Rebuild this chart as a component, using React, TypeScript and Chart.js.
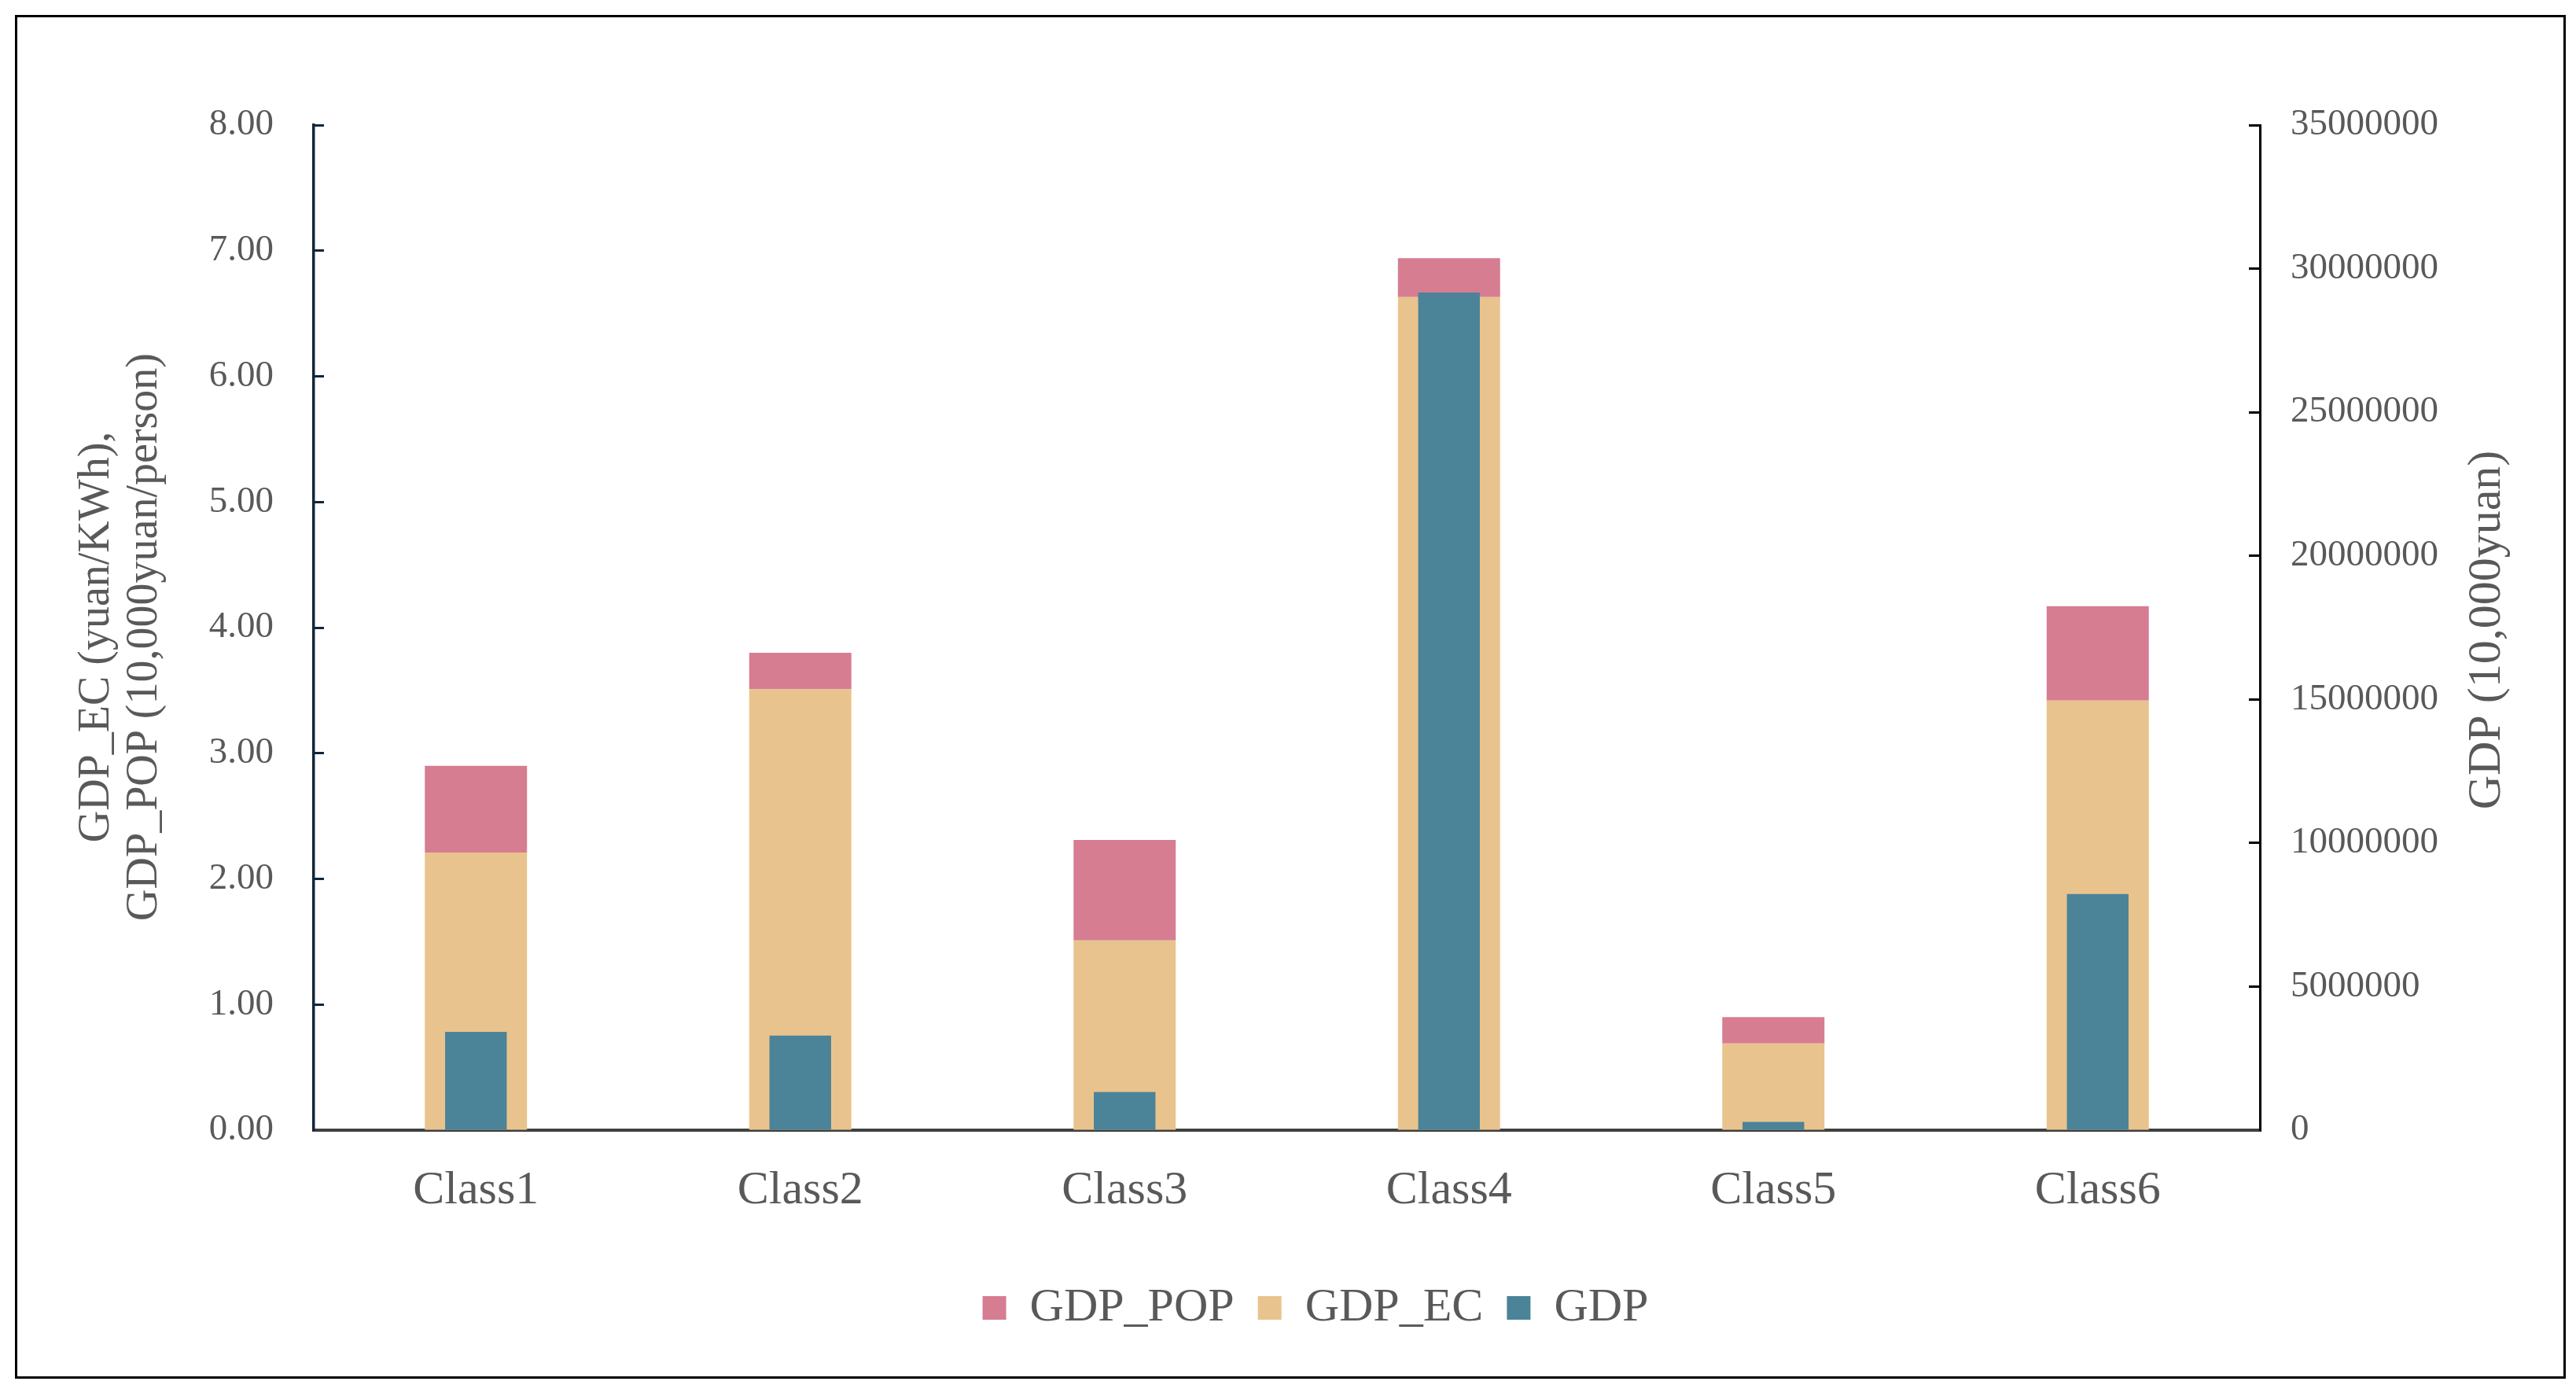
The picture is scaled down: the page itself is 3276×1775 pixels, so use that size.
import React, { useEffect, useRef } from "react";
import { Chart, registerables } from "chart.js";

Chart.register(...registerables);

// ---- data ----
const CATEGORIES = ["Class1", "Class2", "Class3", "Class4", "Class5", "Class6"];
const GDP_EC = [2.21, 3.51, 1.51, 6.63, 0.69, 3.42];
const GDP_POP = [0.69, 0.29, 0.8, 0.31, 0.21, 0.75];
const GDP = [3420000, 3290000, 1325000, 29170000, 285000, 8220000];

const LEFT_TITLE = ["GDP_EC (yuan/KWh),", "GDP_POP (10,000yuan/person)"];
const RIGHT_TITLE = "GDP (10,000yuan)";

const LEFT_MIN = 0;
const LEFT_MAX = 8;
const LEFT_STEP = 1;
const RIGHT_MIN = 0;
const RIGHT_MAX = 35000000;
const RIGHT_STEP = 5000000;

// ---- styles ----
const FONT = '"Liberation Serif", "Times New Roman", serif';
const TEXT = "#595959";
const PINK = "#D67D92";
const TAN = "#E9C38D";
const BLUE = "#4B8399";
const NAVY = "#10263A";

const titlePlugin = {
  id: "axisTitles",
  afterDraw(chart: any) {
    const ctx = chart.ctx;
    const area = chart.chartArea;
    ctx.save();
    ctx.fillStyle = TEXT;
    ctx.textAlign = "center";
    ctx.textBaseline = "middle";
    ctx.font = `56px ${FONT}`;
    const cy = (area.top + area.bottom) / 2 + 12;
    const xs = [123, 184];
    LEFT_TITLE.forEach((line, i) => {
      ctx.save();
      ctx.translate(xs[i], cy);
      ctx.rotate(-Math.PI / 2);
      ctx.fillText(line, 0, 0);
      ctx.restore();
    });
    ctx.font = `60px ${FONT}`;
    ctx.save();
    ctx.translate(3163, (area.top + area.bottom) / 2 + 3);
    ctx.rotate(-Math.PI / 2);
    ctx.fillText(RIGHT_TITLE, 0, 0);
    ctx.restore();
    ctx.restore();
  },
};

export default function App() {
  const canvasRef = useRef<HTMLCanvasElement | null>(null);

  useEffect(() => {
    if (!canvasRef.current) return;
    const chart = new Chart(canvasRef.current, {
      type: "bar",
      data: {
        labels: CATEGORIES,
        datasets: [
          {
            label: "GDP_POP",
            data: GDP_POP,
            backgroundColor: PINK,
            borderWidth: 0,
            yAxisID: "y",
            stack: "ratio",
            order: 2,
            grouped: false,
            barPercentage: 0.315,
            categoryPercentage: 1,
          } as any,
          {
            label: "GDP_EC",
            data: GDP_EC,
            backgroundColor: TAN,
            borderWidth: 0,
            yAxisID: "y",
            stack: "ratio",
            order: 1,
            grouped: false,
            barPercentage: 0.315,
            categoryPercentage: 1,
          } as any,
          {
            label: "GDP",
            data: GDP,
            backgroundColor: BLUE,
            borderWidth: 0,
            yAxisID: "y1",
            stack: "gdp",
            order: 0,
            grouped: false,
            barPercentage: 0.19,
            categoryPercentage: 1,
          } as any,
        ],
      },
      options: {
        responsive: false,
        animation: false,
        devicePixelRatio: 1,
        layout: { padding: { left: 70, right: 0, top: 159, bottom: 72 } },
        plugins: {
          legend: {
            position: "bottom",
            labels: {
              boxWidth: 30,
              boxHeight: 30,
              padding: 30,
              color: TEXT,
              font: { family: FONT, size: 60 },
              sort: (a: any, b: any) => a.datasetIndex - b.datasetIndex,
            },
          },
          tooltip: { enabled: false },
          title: { display: false },
        },
        scales: {
          x: {
            stacked: true,
            z: 1,
            grid: { display: false },
            border: { display: true, color: "#404040", width: 4 },
            ticks: { color: TEXT, font: { family: FONT, size: 60 }, padding: 33 },
            afterFit: (s: any) => {
              s.height = 166;
            },
          },
          y: {
            position: "left",
            stacked: true,
            min: LEFT_MIN,
            max: LEFT_MAX,
            ticks: {
              stepSize: LEFT_STEP,
              callback: (v: any) => Number(v).toFixed(2),
              color: TEXT,
              font: { family: FONT, size: 47 },
              padding: 64,
            },
            grid: {
              drawOnChartArea: false,
              drawTicks: true,
              tickLength: -13,
              tickWidth: 3,
              tickColor: NAVY,
            },
            border: { display: true, color: NAVY, width: 3.5 },
            afterFit: (s: any) => {
              s.width = 329;
            },
          },
          y1: {
            position: "right",
            stacked: true,
            min: RIGHT_MIN,
            max: RIGHT_MAX,
            ticks: {
              stepSize: RIGHT_STEP,
              callback: (v: any) => String(v),
              color: TEXT,
              font: { family: FONT, size: 47 },
              padding: 53,
            },
            grid: {
              drawOnChartArea: false,
              drawTicks: true,
              tickLength: -14,
              tickWidth: 3,
              tickColor: "#000000",
            },
            border: { display: true, color: "#000000", width: 3 },
            afterFit: (s: any) => {
              s.width = 402;
            },
          },
        },
      } as any,
      plugins: [titlePlugin],
    });
    return () => chart.destroy();
  }, []);

  return (
    <div
      style={{
        position: "fixed",
        left: 0,
        top: 0,
        width: 3276,
        height: 1775,
        background: "#ffffff",
        overflow: "hidden",
      }}
    >
      <canvas
        ref={canvasRef}
        width={3276}
        height={1775}
        style={{ position: "absolute", left: 0, top: 0, width: 3276, height: 1775 }}
      />
      <div
        style={{
          position: "absolute",
          left: 19,
          top: 19,
          width: 3244,
          height: 1734,
          boxSizing: "border-box",
          border: "3px solid #000000",
          pointerEvents: "none",
        }}
      />
    </div>
  );
}
